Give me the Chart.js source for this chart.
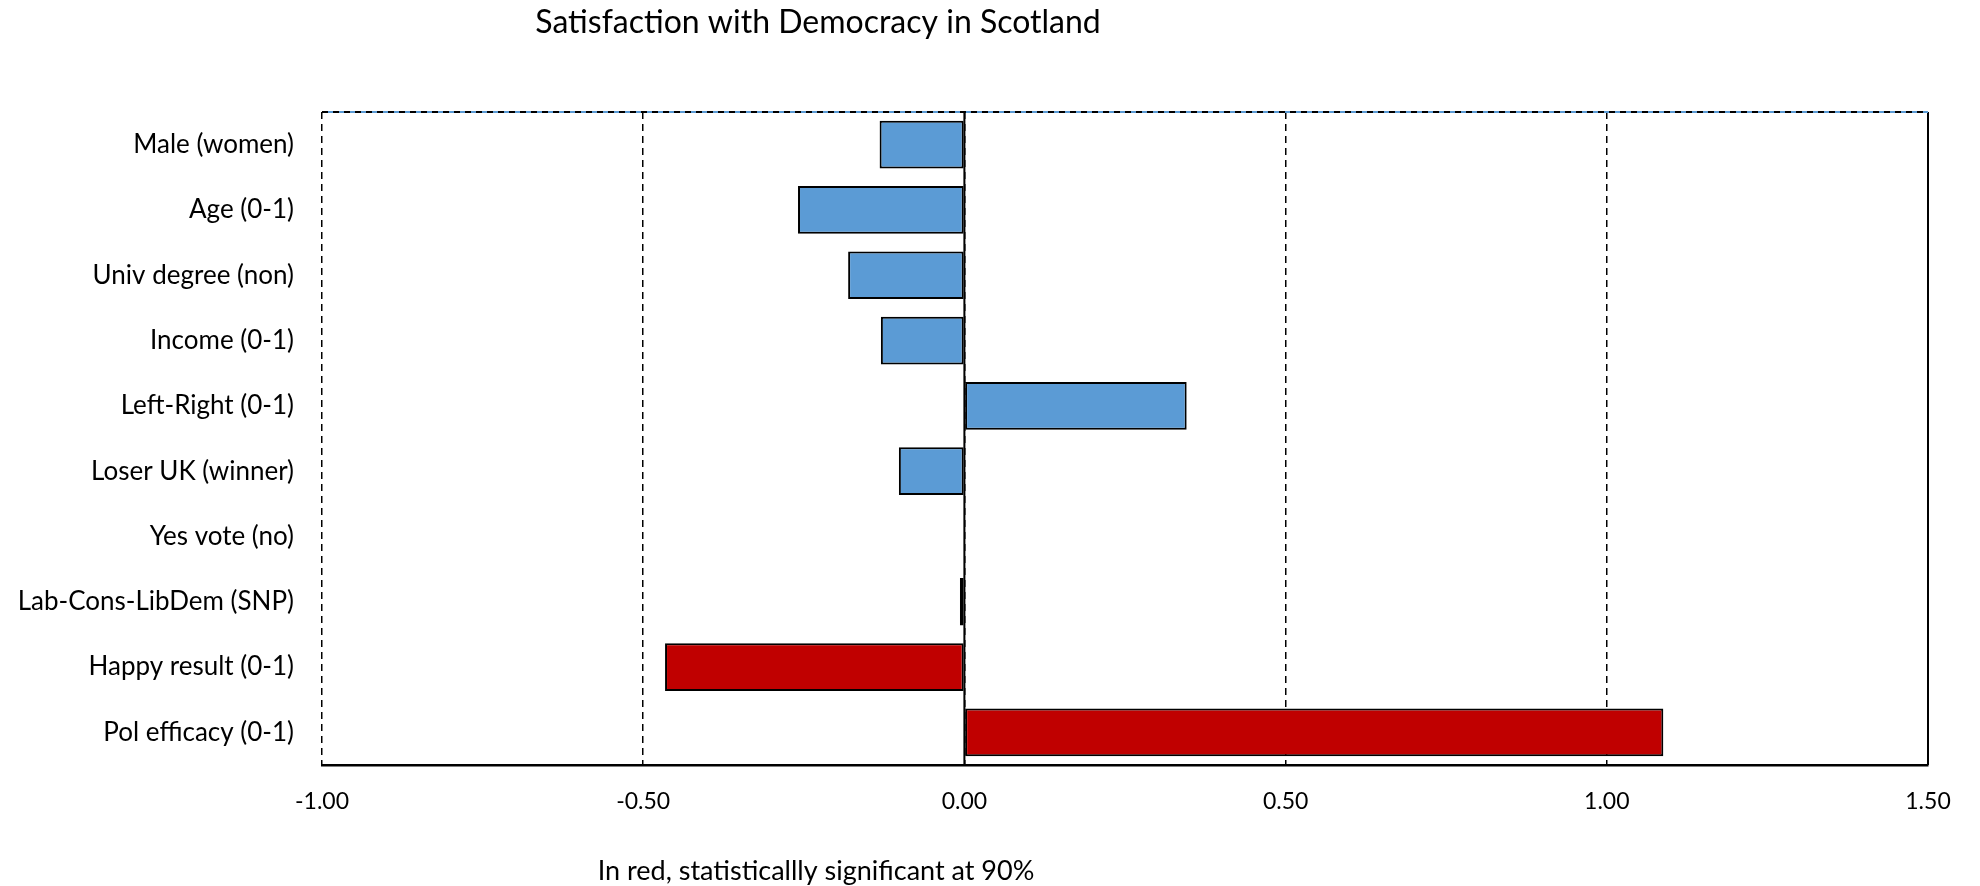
<!DOCTYPE html>
<html>
<head>
<meta charset="utf-8">
<script src="https://cdn.jsdelivr.net/npm/chart.js@4/dist/chart.umd.min.js"></script>
<style>
  html, body { margin: 0; padding: 0; background: #fff; }
  #wrap { width: 1980px; height: 886px; position: relative; }
</style>
</head>
<body>
<div id="wrap"><canvas id="demChart" width="1980" height="886"></canvas></div>
<script>
const categories = [
    'Male (women)', 'Age (0-1)', 'Univ degree (non)', 'Income (0-1)', 'Left-Right (0-1)',
    'Loser UK (winner)', 'Yes vote (no)', 'Lab-Cons-LibDem (SNP)', 'Happy result (0-1)', 'Pol efficacy (0-1)'
];
const coefficients = [-0.132, -0.259, -0.181, -0.130, 0.346, -0.102, -0.001, -0.007, -0.466, 1.088];
// true = significant at 90% (drawn in red)
const significant = [false, false, false, false, false, false, false, false, true, true];
const xTicks = [-1.0, -0.5, 0.0, 0.5, 1.0, 1.5];

const FONT = 'Lato, "Open Sans", sans-serif';

// Solid zero line + solid right frame, dashed blue/black top edge, texts
const frameAndTexts = {
    id: 'frameAndTexts',
    afterDatasetsDraw(chart) {
        const { ctx, chartArea: a, scales: { x } } = chart;
        ctx.save();
        ctx.strokeStyle = '#000';
        ctx.lineWidth = 2;
        const x0 = x.getPixelForValue(0);
        ctx.beginPath();
        ctx.moveTo(x0, a.top); ctx.lineTo(x0, a.bottom);
        ctx.moveTo(a.right, a.top); ctx.lineTo(a.right, a.bottom);
        ctx.stroke();
        // top edge: blue line with black dashes on top
        ctx.strokeStyle = '#5B9BD5';
        ctx.lineWidth = 2;
        ctx.beginPath(); ctx.moveTo(a.left, a.top); ctx.lineTo(a.right, a.top); ctx.stroke();
        ctx.strokeStyle = '#000';
        ctx.setLineDash([6, 5]);
        ctx.beginPath(); ctx.moveTo(a.left, a.top); ctx.lineTo(a.right, a.top); ctx.stroke();
        ctx.restore();
    },
    afterDraw(chart) {
        const { ctx } = chart;
        ctx.save();
        ctx.fillStyle = '#000';
        ctx.textAlign = 'center';
        ctx.textBaseline = 'middle';
        ctx.font = '32px ' + FONT;
        ctx.fillText('Satisfaction with Democracy in Scotland', 818, 23);
        ctx.font = '27px ' + FONT;
        ctx.fillText('In red, statisticallly significant at 90%', 816, 871);
        ctx.restore();
    }
};

new Chart(document.getElementById('demChart'), {
    type: 'bar',
    data: {
        labels: categories,
        datasets: [{
            label: 'Coefficient',
            data: coefficients,
            backgroundColor: significant.map(s => s ? '#C00000' : '#5B9BD5'),
            borderColor: '#000',
            borderWidth: 2,
            borderSkipped: false,
            barPercentage: 0.73,
            categoryPercentage: 1.0
        }]
    },
    options: {
        indexAxis: 'y',
        responsive: false,
        animation: false,
        layout: { padding: { top: 112, right: 52, left: 0, bottom: 0 } },
        plugins: {
            legend: { display: false },
            title: { display: false },
            tooltip: { enabled: false }
        },
        scales: {
            x: {
                min: -1,
                max: 1.5,
                afterBuildTicks: scale => { scale.ticks = xTicks.map(v => ({ value: v })); },
                afterFit: scale => { scale.height = 121; },
                ticks: {
                    color: '#000',
                    font: { family: FONT, size: 23 },
                    padding: 23,
                    callback: v => Number(v).toFixed(2)
                },
                grid: {
                    color: '#000',
                    lineWidth: 1.5,
                    drawTicks: false
                },
                border: { display: true, color: '#000', width: 2.5, dash: [7, 5] }
            },
            y: {
                afterFit: scale => { scale.width = 322; },
                ticks: {
                    color: '#000',
                    font: { family: FONT, size: 26 },
                    padding: 28
                },
                grid: { display: false, drawTicks: false },
                border: { display: false }
            }
        }
    },
    plugins: [frameAndTexts]
});
</script>
</body>
</html>
